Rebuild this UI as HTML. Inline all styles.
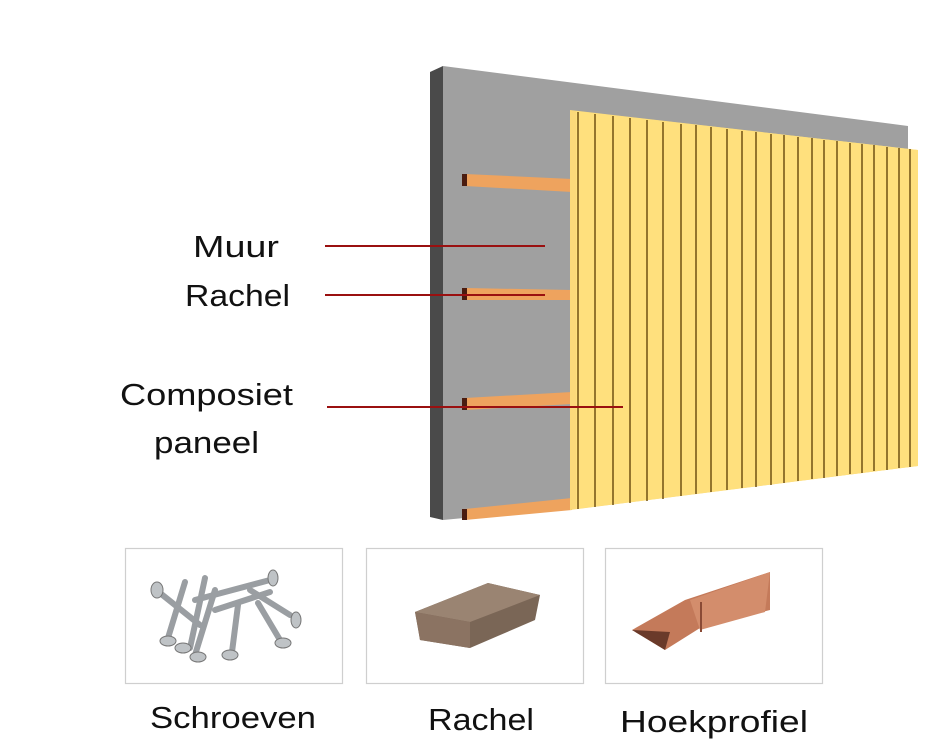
<!DOCTYPE html>
<html><head><meta charset="utf-8"><style>
html,body{margin:0;padding:0;background:#fff;}
svg{display:block;}
text{font-family:"Liberation Sans",sans-serif;fill:#111;}
</style></head><body>
<svg width="937" height="750" viewBox="0 0 937 750" xmlns="http://www.w3.org/2000/svg">
<!-- wall -->
<polygon points="443,66 908,126 908,200 600,505 443,520" fill="#a0a0a0"/>
<polygon points="430,72 443,66 443,520 430,517" fill="#4a4a4a"/>
<!-- rachels -->
<g fill="#eea35e">
<polygon points="465,174 572,179 572,192 465,186"/>
<polygon points="465,288 572,290 572,300 465,300"/>
<polygon points="465,398 572,392 572,404 465,410"/>
<polygon points="465,509 572,498 572,510 465,520"/>
</g>
<g fill="#4a1c10">
<rect x="462" y="174" width="5" height="12"/>
<rect x="462" y="288" width="5" height="12"/>
<rect x="462" y="398" width="5" height="12"/>
<rect x="462" y="509" width="5" height="11"/>
</g>
<!-- panel -->
<polygon points="570,110 918,150 918,466 570,510" fill="#fbd97a"/>
<polygon points="576,111 918,150 918,466 576,509" fill="#ffe07d"/>
<g stroke="#7a5a1a" stroke-width="1.6">
<line x1="578" y1="112" x2="578" y2="509"/>
<line x1="595" y1="114" x2="595" y2="507"/>
<line x1="613" y1="116" x2="613" y2="505"/>
<line x1="630" y1="118" x2="630" y2="503"/>
<line x1="647" y1="120" x2="647" y2="501"/>
<line x1="663" y1="122" x2="663" y2="499"/>
<line x1="681" y1="124" x2="681" y2="496"/>
<line x1="696" y1="125" x2="696" y2="494"/>
<line x1="711" y1="127" x2="711" y2="492"/>
<line x1="727" y1="129" x2="727" y2="490"/>
<line x1="742" y1="131" x2="742" y2="488"/>
<line x1="756" y1="132" x2="756" y2="487"/>
<line x1="771" y1="134" x2="771" y2="485"/>
<line x1="784" y1="135" x2="784" y2="483"/>
<line x1="798" y1="137" x2="798" y2="481"/>
<line x1="812" y1="138" x2="812" y2="479"/>
<line x1="824" y1="140" x2="824" y2="478"/>
<line x1="837" y1="141" x2="837" y2="476"/>
<line x1="850" y1="143" x2="850" y2="474"/>
<line x1="862" y1="144" x2="862" y2="473"/>
<line x1="874" y1="145" x2="874" y2="471"/>
<line x1="887" y1="147" x2="887" y2="470"/>
<line x1="899" y1="148" x2="899" y2="468"/>
<line x1="910" y1="149" x2="910" y2="467"/>
</g>
<!-- red leader lines -->
<g stroke="#9a1010" stroke-width="2">
<line x1="325" y1="246" x2="545" y2="246"/>
<line x1="325" y1="295" x2="545" y2="295"/>
<line x1="327" y1="407" x2="623" y2="407"/>
</g>
<!-- labels -->
<g font-size="31">
<text x="193" y="257" textLength="86" lengthAdjust="spacingAndGlyphs">Muur</text>
<text x="185" y="306" textLength="105" lengthAdjust="spacingAndGlyphs">Rachel</text>
<text x="120" y="405" textLength="173" lengthAdjust="spacingAndGlyphs">Composiet</text>
<text x="154" y="453" textLength="105" lengthAdjust="spacingAndGlyphs">paneel</text>
</g>
<!-- boxes -->
<g fill="#fff" stroke="#cfcfcf" stroke-width="1.2">
<rect x="125.5" y="548.5" width="217" height="135"/>
<rect x="366.5" y="548.5" width="217" height="135"/>
<rect x="605.5" y="548.5" width="217" height="135"/>
</g>
<!-- screws -->
<g stroke="#9a9ea2" stroke-width="6" stroke-linecap="round">
<line x1="160" y1="593" x2="200" y2="625"/>
<line x1="185" y1="582" x2="168" y2="638"/>
<line x1="205" y1="578" x2="190" y2="648"/>
<line x1="215" y1="590" x2="195" y2="655"/>
<line x1="238" y1="605" x2="232" y2="652"/>
<line x1="250" y1="590" x2="290" y2="615"/>
<line x1="258" y1="603" x2="280" y2="640"/>
<line x1="195" y1="600" x2="270" y2="580"/>
<line x1="215" y1="610" x2="270" y2="592"/>
</g>
<g fill="#bfc3c6" stroke="#777" stroke-width="1">
<ellipse cx="168" cy="641" rx="8" ry="5"/>
<ellipse cx="183" cy="648" rx="8" ry="5"/>
<ellipse cx="198" cy="657" rx="8" ry="5"/>
<ellipse cx="230" cy="655" rx="8" ry="5"/>
<ellipse cx="283" cy="643" rx="8" ry="5"/>
<ellipse cx="296" cy="620" rx="5" ry="8"/>
<ellipse cx="273" cy="578" rx="5" ry="8"/>
<ellipse cx="157" cy="590" rx="6" ry="8"/>
</g>
<!-- rachel product -->
<polygon points="415,612 488,583 540,595 535,620 470,648 420,640" fill="#7a6656"/>
<polygon points="415,612 488,583 540,595 470,622" fill="#9a8472"/>
<polygon points="415,612 470,622 470,648 420,640 418,628" fill="#8b7362"/>
<!-- hoekprofiel -->
<polygon points="632,630 685,600 770,572 770,610 700,628 665,650" fill="#c47a5a"/>
<polygon points="690,600 770,572 765,612 700,630" fill="#d38d6c"/>
<polygon points="632,630 665,650 670,632" fill="#6a3a2a"/>
<line x1="701" y1="602" x2="701" y2="632" stroke="#8a4a35" stroke-width="2"/>
<!-- bottom labels -->
<g font-size="31">
<text x="150" y="728" textLength="166" lengthAdjust="spacingAndGlyphs">Schroeven</text>
<text x="428" y="730" textLength="106" lengthAdjust="spacingAndGlyphs">Rachel</text>
<text x="620" y="732" textLength="188" lengthAdjust="spacingAndGlyphs">Hoekprofiel</text>
</g>
</svg>
</body></html>
